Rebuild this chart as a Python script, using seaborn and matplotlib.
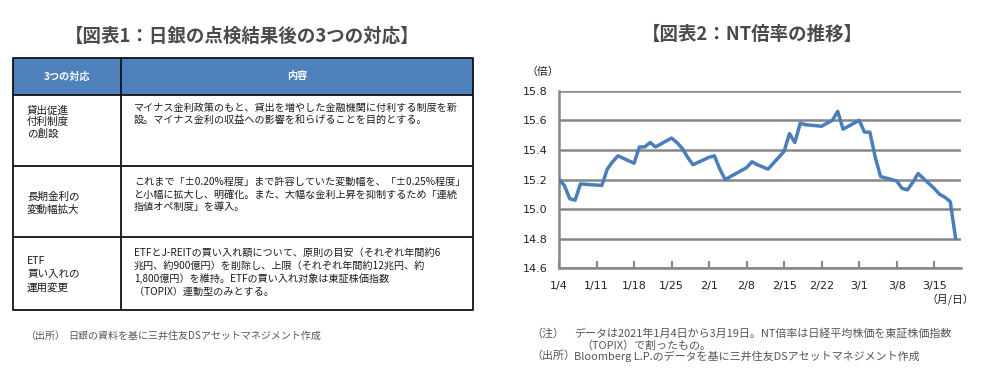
import matplotlib
matplotlib.use("Agg")
import matplotlib.pyplot as plt
from matplotlib.patches import Rectangle
import seaborn as sns
import pandas as pd

# ---------------- data ----------------
dates = ["2021-01-04", "2021-01-05", "2021-01-06", "2021-01-07", "2021-01-08",
         "2021-01-12", "2021-01-13", "2021-01-14", "2021-01-15",
         "2021-01-18", "2021-01-19", "2021-01-20", "2021-01-21", "2021-01-22",
         "2021-01-25", "2021-01-26", "2021-01-27", "2021-01-28", "2021-01-29",
         "2021-02-01", "2021-02-02", "2021-02-03", "2021-02-04", "2021-02-05",
         "2021-02-08", "2021-02-09", "2021-02-10", "2021-02-12",
         "2021-02-15", "2021-02-16", "2021-02-17", "2021-02-18", "2021-02-19",
         "2021-02-22", "2021-02-24", "2021-02-25", "2021-02-26",
         "2021-03-01", "2021-03-02", "2021-03-03", "2021-03-04", "2021-03-05",
         "2021-03-08", "2021-03-09", "2021-03-10", "2021-03-11", "2021-03-12",
         "2021-03-15", "2021-03-16", "2021-03-17", "2021-03-18", "2021-03-19"]
nt_ratio = [15.20, 15.16, 15.07, 15.06, 15.17,
            15.16, 15.27, 15.32, 15.36,
            15.31, 15.42, 15.42, 15.45, 15.42,
            15.48, 15.45, 15.41, 15.35, 15.30,
            15.35, 15.36, 15.27, 15.20, 15.22,
            15.28, 15.32, 15.30, 15.27,
            15.39, 15.51, 15.45, 15.58, 15.57,
            15.56, 15.60, 15.66, 15.54,
            15.60, 15.52, 15.52, 15.35, 15.22,
            15.19, 15.14, 15.13, 15.18, 15.24,
            15.14, 15.10, 15.08, 15.05, 14.80]
tick_dates = ["2021-01-04", "2021-01-11", "2021-01-18", "2021-01-25", "2021-02-01",
              "2021-02-08", "2021-02-15", "2021-02-22", "2021-03-01", "2021-03-08",
              "2021-03-15"]
tick_labels = ["1/4", "1/11", "1/18", "1/25", "2/1", "2/8", "2/15", "2/22",
               "3/1", "3/8", "3/15"]
y_ticks = [14.6, 14.8, 15.0, 15.2, 15.4, 15.6, 15.8]

table_header = ["3つの対応", "内容"]
table_col1 = [["貸出促進", "付利制度", "の創設"],
              ["長期金利の", "変動幅拡大"],
              ["ETF", "買い入れの", "運用変更"]]
table_col2 = [["マイナス金利政策のもと、貸出を増やした金融機関に付利する制度を新",
               "設。マイナス金利の収益への影響を和らげることを目的とする。"],
              ["これまで「±0.20%程度」まで許容していた変動幅を、「±0.25%程度」",
               "と小幅に拡大し、明確化。また、大幅な金利上昇を抑制するため「連続",
               "指値オペ制度」を導入。"],
              ["ETFとJ-REITの買い入れ額について、原則の目安（それぞれ年間約6",
               "兆円、約900億円）を削除し、上限（それぞれ年間約12兆円、約",
               "1,800億円）を維持。ETFの買い入れ対象は東証株価指数",
               "（TOPIX）連動型のみとする。"]]

title1 = "【図表1：日銀の点検結果後の3つの対応】"
title2 = "【図表2：NT倍率の推移】"

# ---------------- style ----------------
sns.set_theme(style="white")
plt.rcParams["font.family"] = ["Noto Sans CJK JP", "DejaVu Sans"]

W, H = 991, 377
fig = plt.figure(figsize=(W / 100, H / 100), dpi=100)
fig.patch.set_facecolor("white")

# overlay in pixel coordinates for titles, table and notes
ov = fig.add_axes([0, 0, 1, 1])
ov.set_xlim(0, W)
ov.set_ylim(H, 0)
ov.axis("off")

title_col = "#4a4a4a"
txt_col = "#1a1a1a"
note_col = "#555555"
JP = ["Noto Sans CJK JP", "DejaVu Sans"]

ov.text(242, 36, title1, ha="center", va="center", fontsize=13.3,
        fontweight="bold", color=title_col, family=JP)
ov.text(752, 34, title2, ha="center", va="center", fontsize=13.3,
        fontweight="bold", color=title_col, family=JP)

# table
tx0, tx1, tdiv = 13, 473, 121
rows_y = [58, 95, 166, 237, 310]
ov.add_patch(Rectangle((tx0, rows_y[0]), tx1 - tx0, rows_y[1] - rows_y[0],
                       facecolor="#4f81bd", edgecolor="none", zorder=1))
for yy in rows_y:
    ov.plot([tx0, tx1], [yy, yy], color="#111111", lw=1.3, zorder=2,
            solid_capstyle="butt")
for xx in [tx0, tdiv, tx1]:
    ov.plot([xx, xx], [rows_y[0], rows_y[-1]], color="#111111", lw=1.3, zorder=2)

hy = (rows_y[0] + rows_y[1]) / 2
ov.text((tx0 + tdiv) / 2, hy, table_header[0], ha="center", va="center",
        fontsize=7.3, fontweight="bold", color="white", family=JP)
ov.text((tdiv + tx1) / 2, hy, table_header[1], ha="center", va="center",
        fontsize=7.3, fontweight="bold", color="white", family=JP)

col1_y = [[110.7, 122.3, 134.0], [196.7, 209.3], [260.7, 274.0, 287.3]]
col2_y = [[108.3, 120.7], [182.3, 195.0, 207.3], [253.3, 266.0, 279.0, 292.3]]
for r in range(3):
    for line, yy in zip(table_col1[r], col1_y[r]):
        ov.text(27, yy, line, ha="left", va="center", fontsize=7.6,
                color=txt_col, family=JP)
    for line, yy in zip(table_col2[r], col2_y[r]):
        ov.text(134, yy, line, ha="left", va="center", fontsize=7.25,
                color=txt_col, family=JP)

ov.text(25, 336, "（出所）", ha="left", va="center", fontsize=7.2,
        color=note_col, family=JP)
ov.text(68, 336, "日銀の資料を基に三井住友DSアセットマネジメント作成",
        ha="left", va="center", fontsize=7.2, color=note_col, family=JP)

# right notes
NF = 7.9
ov.text(531, 334, "（注）", ha="left", va="center", fontsize=NF,
        color=note_col, family=JP)
ov.text(574, 334, "データは2021年1月4日から3月19日。NT倍率は日経平均株価を東証株価指数",
        ha="left", va="center", fontsize=NF, color=note_col, family=JP)
ov.text(581, 345.7, "（TOPIX）で割ったもの。", ha="left", va="center",
        fontsize=NF, color=note_col, family=JP)
ov.text(531, 356, "（出所）", ha="left", va="center", fontsize=NF,
        color=note_col, family=JP)
ov.text(574, 356, "Bloomberg L.P.のデータを基に三井住友DSアセットマネジメント作成",
        ha="left", va="center", fontsize=NF, color=note_col, family=JP)

# ---------------- chart ----------------
ax_l, ax_r, ax_t, ax_b = 559, 961, 90.7, 268.3
ax = fig.add_axes([ax_l / W, 1 - ax_b / H, (ax_r - ax_l) / W, (ax_b - ax_t) / H])
ax.set_facecolor("none")

df = pd.DataFrame({"date": pd.to_datetime(dates), "nt": nt_ratio})
sns.lineplot(data=df, x="date", y="nt", ax=ax, color="#4a7ebb", linewidth=2.5,
             zorder=3)

grid_col = "#878787"
ax.set_ylim(y_ticks[0], y_ticks[-1])
ax.set_yticks(y_ticks)
ax.set_yticklabels([f"{v:.1f}" for v in y_ticks], fontsize=8, color="#222222",
                   family="DejaVu Sans")
ax.yaxis.grid(True, color=grid_col, linewidth=1.8, zorder=1)
ax.set_axisbelow(True)

ax.set_xlim(pd.Timestamp("2021-01-04"), pd.Timestamp("2021-03-20"))
ax.set_xticks(pd.to_datetime(tick_dates))
ax.set_xticklabels(tick_labels, fontsize=8, color="#222222", family="DejaVu Sans")
ax.tick_params(axis="x", direction="in", length=5, width=1.5, color=grid_col,
               pad=9, bottom=True)
ax.tick_params(axis="y", length=0, pad=8)

for s in ["top", "right"]:
    ax.spines[s].set_visible(False)
for s in ["left", "bottom"]:
    ax.spines[s].set_color(grid_col)
    ax.spines[s].set_linewidth(1.8)
ax.set_xlabel("")
ax.set_ylabel("")

ov.text(543, 72, "（倍）", ha="center", va="center", fontsize=7.8,
        color="#222222", family=JP)
ov.text(950, 299, "（月/日）", ha="center", va="center", fontsize=7.8,
        color="#222222", family=JP)

fig.savefig("out.png", dpi=100, facecolor="white")
